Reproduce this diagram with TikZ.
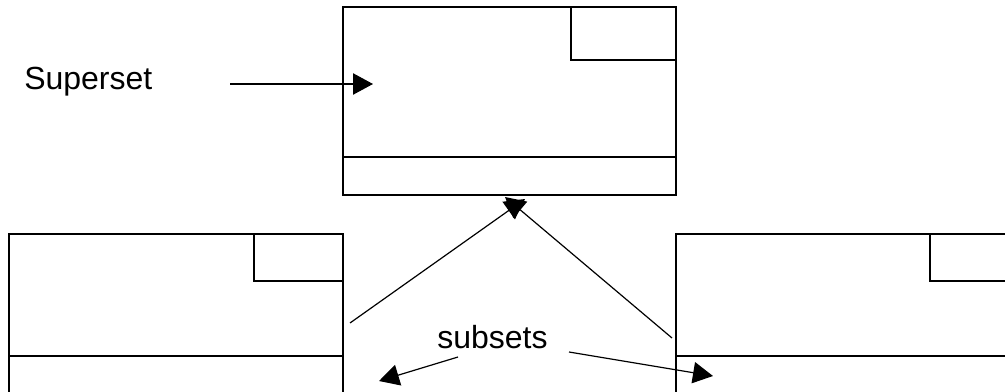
\documentclass[tikz,border=0pt]{standalone}
\usepackage{fontspec}
\setmainfont{Liberation Sans}
\usetikzlibrary{arrows.meta}
\begin{document}
\begin{tikzpicture}[x=0.75pt,y=-0.75pt,
  boxline/.style={draw=black,line width=1.3pt},
  conn/.style={draw=black,line width=0.9pt,-{Triangle[length=15pt,width=16pt]}},
  lbl/.style={font=\fontsize{24}{28}\selectfont,inner sep=0pt,anchor=base west}]
\useasboundingbox (0,0) rectangle (1005,392);
\clip (0,0) rectangle (1005,392);
% top box (superset)
\draw[boxline] (343,7) rectangle (676,195);
\draw[boxline] (343,157) -- (676,157);
\draw[boxline] (571,7) rectangle (676,60);
% left box (subset)
\draw[boxline] (9,234) rectangle (343,400);
\draw[boxline] (9,356) -- (343,356);
\draw[boxline] (254,234) rectangle (343,281);
% right box (subset)
\draw[boxline] (676,234) rectangle (1012,400);
\draw[boxline] (676,356) -- (1012,356);
\draw[boxline] (930,234) rectangle (1012,281);
% labels
\node[lbl] (sup) at (24,90) {Superset};
\node[lbl] (sub) at (437,348) {subsets};
% connector end points
\coordinate (supS) at (230,84);
\coordinate (supT) at (373,84);
\coordinate (lS) at (350,323);
\coordinate (lT) at (525,199);
\coordinate (rS) at (672,338);
\coordinate (rT) at (505,197);
\coordinate (slS) at (458,357);
\coordinate (slT) at (379,381);
\coordinate (srS) at (569,352);
\coordinate (srT) at (713,376);
% connectors
\draw[conn] (supS) -- (supT);
\draw[conn] (lS) -- (lT);
\draw[conn] (rS) -- (rT);
\draw[conn] (slS) -- (slT);
\draw[conn] (srS) -- (srT);
\end{tikzpicture}
\end{document}
